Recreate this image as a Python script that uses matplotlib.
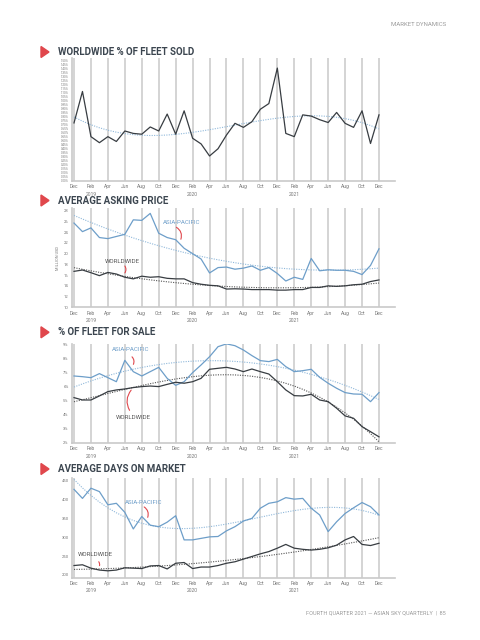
import matplotlib
matplotlib.use("Agg")
import matplotlib.pyplot as plt
from matplotlib.patches import Polygon
import numpy as np

# data: monthly, Dec 2018 .. Dec 2021
months = np.arange(37)
tick_pos = np.arange(0, 37, 2)
tick_labels = ["Dec", "Feb\n2019", "Apr", "Jun", "Aug", "Oct",
               "Dec", "Feb\n2020", "Apr", "Jun", "Aug", "Oct",
               "Dec", "Feb\n2021", "Apr", "Jun", "Aug", "Oct", "Dec"]

sold_ww = [0.72, 1.11, 0.55, 0.475, 0.55, 0.49, 0.62, 0.59, 0.58, 0.67, 0.62, 0.83,
           0.58, 0.87, 0.53, 0.46, 0.31, 0.40, 0.57, 0.715, 0.665, 0.735, 0.89, 0.96,
           1.40, 0.59, 0.55, 0.82, 0.805, 0.76, 0.725, 0.85, 0.715, 0.665, 0.87, 0.465, 0.82]

price_ap = [25.7, 24.1, 24.8, 23.0, 22.8, 23.2, 23.6, 26.3, 26.2, 27.5, 23.8, 23.0,
            22.6, 21.0, 20.0, 19.0, 16.4, 17.4, 17.5, 17.1, 17.3, 17.7, 16.9, 17.4,
            16.3, 14.9, 15.6, 15.2, 19.1, 16.8, 17.0, 16.9, 16.9, 16.7, 16.1, 17.8, 20.9]
price_ww = [16.7, 16.95, 16.45, 15.9, 16.5, 16.2, 15.6, 15.3, 15.8, 15.6, 15.7, 15.4,
            15.3, 15.3, 14.6, 14.3, 14.1, 14.0, 13.4, 13.45, 13.4, 13.3, 13.3, 13.3,
            13.2, 13.2, 13.3, 13.3, 13.7, 13.7, 14.0, 13.9, 14.0, 14.2, 14.3, 14.8, 15.1]

sale_ap = [6.78, 6.73, 6.66, 6.95, 6.66, 6.37, 7.9, 7.09, 6.78, 7.09, 7.4, 6.61,
           6.11, 6.37, 7.02, 7.57, 8.16, 8.88, 9.08, 8.95, 8.64, 8.24, 7.88, 7.81,
           7.97, 7.45, 7.09, 7.16, 7.26, 6.68, 6.26, 5.9, 5.59, 5.49, 5.47, 4.94, 5.59]
sale_ww = [5.23, 5.06, 5.06, 5.35, 5.66, 5.78, 5.85, 5.95, 6.02, 6.06, 6.02, 6.18,
           6.33, 6.26, 6.37, 6.61, 7.26, 7.33, 7.4, 7.28, 7.09, 7.28, 7.09, 6.92,
           6.37, 5.78, 5.37, 5.35, 5.47, 5.06, 4.94, 4.47, 3.92, 3.75, 3.15, 2.79, 2.42]

days_ap = [427, 403, 430, 421, 386, 390, 366, 322, 355, 332, 328, 340,
           357, 293, 293, 297, 301, 302, 317, 328, 343, 350, 377, 390,
           394, 405, 401, 403, 377, 359, 315, 341, 363, 378, 392, 381, 359]
days_ww = [225, 227, 218, 213, 211, 213, 219, 218, 217, 224, 225, 216,
           231, 233, 217, 221, 221, 225, 231, 235, 242, 249, 256, 262,
           271, 281, 271, 268, 266, 268, 272, 279, 293, 302, 281, 278, 284]

BLUE = "#6d9ec9"
DARK = "#383d42"
GRID = "#c9c9c9"
RED = "#e0474c"
TITLE = "#3c4650"

fig = plt.figure(figsize=(4.8, 6.4), dpi=100)
plt.rcParams['font.family'] = ['Roboto', 'DejaVu Sans']

X0, X1 = -0.236, 37.89


def make_axes(top, bottom, ylim):
    ax = fig.add_axes([72 / 480, 1 - bottom / 640, 323 / 480, (bottom - top) / 640])
    ax.set_xlim(X0, X1)
    ax.set_ylim(*ylim)
    for s in ["top", "right"]:
        ax.spines[s].set_visible(False)
    for s in ["left", "bottom"]:
        ax.spines[s].set_color(GRID)
        ax.spines[s].set_linewidth(1.2)
    for m in tick_pos:
        ax.axvline(m, color=GRID, lw=1.1, zorder=0)
    ax.set_xticks(tick_pos)
    ax.set_xticklabels(tick_labels, fontsize=3.6, color="#777777", linespacing=1.6)
    ax.tick_params(length=0, pad=2.5)
    return ax


def trend(ax, y, deg, color):
    c = np.polyfit(months, y, deg)
    ax.plot(months, np.polyval(c, months), color=color, lw=0.8,
            ls=(0, (1, 1.2)), zorder=1)


def title(y, text):
    fig.add_artist(Polygon([[41 / 480, 1 - (y - 5.5) / 640], [41 / 480, 1 - (y + 5.5) / 640],
                            [49 / 480, 1 - y / 640]], closed=True, color=RED,
                           transform=fig.transFigure))
    fig.text(58 / 480, 1 - y / 640, text, fontsize=7, fontweight="bold", color=TITLE,
             va="center", ha="left")


def label(ax, x, y, text, color, start, end, rad):
    ax.text(x, y, text, fontsize=4.4, color=color, va="center", ha="left")
    ax.annotate("", xy=end, xytext=start,
                arrowprops=dict(arrowstyle="-", color=RED, lw=0.8,
                                connectionstyle=f"arc3,rad={rad}"))


fig.text(446 / 480, 1 - 25 / 640, "MARKET DYNAMICS", fontsize=4.3, color="#9a9a9a",
         ha="right", va="center")
fig.text(446 / 480, 1 - 613 / 640, "FOURTH QUARTER 2021 \u2014 ASIAN SKY QUARTERLY  |  85",
         fontsize=4, color="#9a9a9a", ha="right", va="center")

# panel 1
title(52, "WORLDWIDE % OF FLEET SOLD")
ax1 = make_axes(58.4, 181, (0, 1.52))
yt = np.arange(0, 1.501, 0.05)
ax1.set_yticks(yt)
ax1.set_yticklabels([f"{v:.2f}%" for v in yt], fontsize=2.2, color="#777777")
trend(ax1, sold_ww, 3, "#8fb8da")
ax1.plot(months, sold_ww, color=DARK, lw=0.9, zorder=3)

# panel 2
title(200.5, "AVERAGE ASKING PRICE")
ax2 = make_axes(208.3, 307.3, (10, 28.45))
ax2.set_yticks(np.arange(10, 29, 2))
ax2.set_yticklabels([str(v) for v in range(10, 29, 2)], fontsize=3, color="#777777")
ax2.set_ylabel("MILLION USD", fontsize=2.8, color="#777777", labelpad=3)
trend(ax2, price_ap, 2, "#8fb8da")
trend(ax2, price_ww, 2, "#555555")
ax2.plot(months, price_ap, color=BLUE, lw=0.9, zorder=3)
ax2.plot(months, price_ww, color=DARK, lw=0.9, zorder=3)
label(ax2, 10.5, 25.8, "ASIA-PACIFIC", BLUE, (11.8, 25.15), (12.5, 22.2), -0.5)
label(ax2, 3.66, 18.6, "WORLDWIDE", "#555555", (5.8, 18.1), (5.8, 16.0), -0.5)

# panel 3
title(332.3, "% OF FLEET FOR SALE")
ax3 = make_axes(343.6, 442.7, (2, 9.1))
ax3.set_yticks(np.arange(2, 10))
ax3.set_yticklabels([f"{v}%" for v in range(2, 10)], fontsize=3, color="#777777")
trend(ax3, sale_ap, 2, "#8fb8da")
trend(ax3, sale_ww, 3, "#555555")
ax3.plot(months, sale_ap, color=BLUE, lw=0.9, zorder=3)
ax3.plot(months, sale_ww, color=DARK, lw=0.9, zorder=3)
label(ax3, 4.5, 8.71, "ASIA-PACIFIC", BLUE, (6.6, 8.28), (6.85, 7.44), -0.5)
label(ax3, 4.96, 3.84, "WORLDWIDE", "#555555", (6.96, 5.92), (6.73, 4.15), 0.4)

# panel 4
title(469, "AVERAGE DAYS ON MARKET")
ax4 = make_axes(478.4, 577.6, (193, 456))
ax4.set_yticks(np.arange(200, 451, 50))
ax4.set_yticklabels([str(v) for v in range(200, 451, 50)], fontsize=3, color="#777777")
trend(ax4, days_ap, 3, "#8fb8da")
trend(ax4, days_ww, 2, "#555555")
ax4.plot(months, days_ap, color=BLUE, lw=0.9, zorder=3)
ax4.plot(months, days_ww, color=DARK, lw=0.9, zorder=3)
label(ax4, 6.0, 393, "ASIA-PACIFIC", BLUE, (8.0, 384), (8.58, 346), -0.5)
label(ax4, 0.47, 253, "WORLDWIDE", "#555555", (2.68, 240), (2.87, 218), -0.5)

fig.savefig("out.png", dpi=100)
